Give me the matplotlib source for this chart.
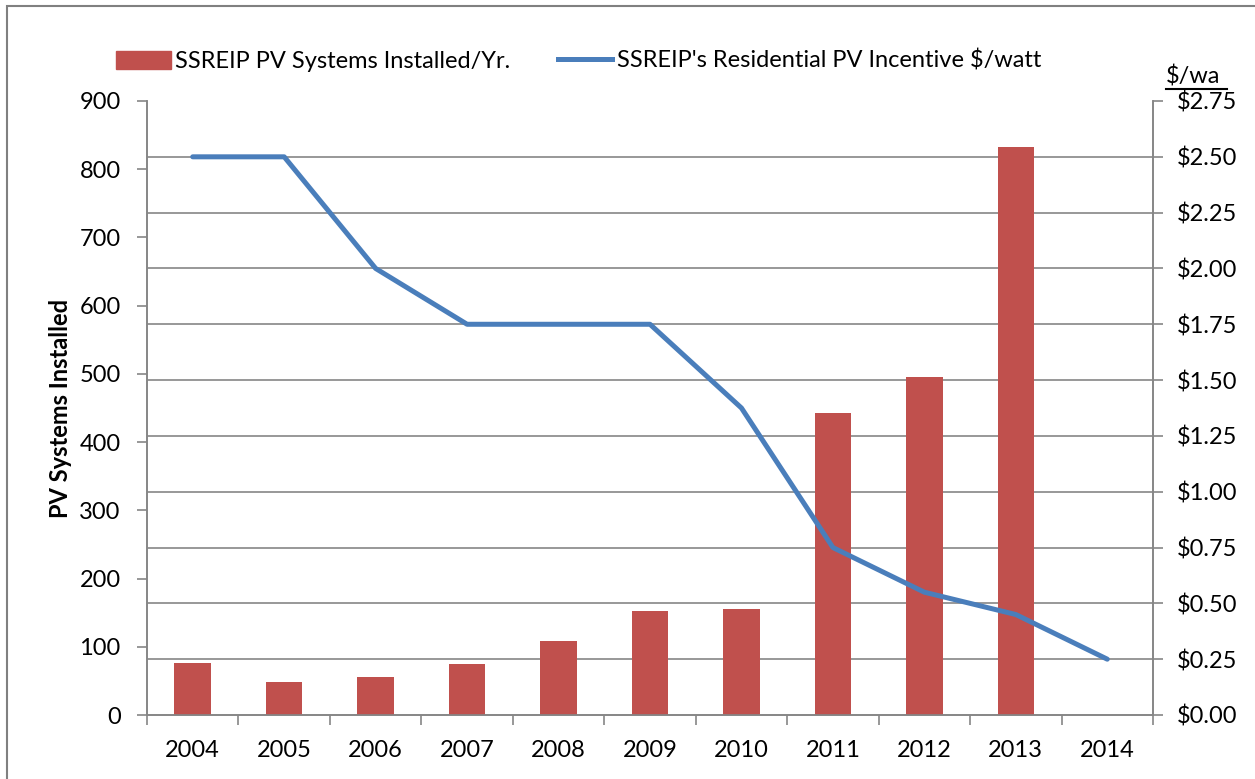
import matplotlib
matplotlib.use("Agg")
import matplotlib.pyplot as plt
from matplotlib.patches import Rectangle, Patch
from matplotlib.lines import Line2D

plt.rcParams['font.family'] = ['Lato', 'DejaVu Sans']

years = ['2004', '2005', '2006', '2007', '2008', '2009', '2010', '2011', '2012', '2013', '2014']
systems_installed = [76, 48, 56, 75, 108, 152, 155, 443, 495, 832, 0]
incentive = [2.50, 2.50, 2.00, 1.75, 1.75, 1.75, 1.375, 0.75, 0.55, 0.45, 0.25]
left_ticks = [0, 100, 200, 300, 400, 500, 600, 700, 800, 900]
right_ticks = [0, 0.25, 0.5, 0.75, 1.0, 1.25, 1.5, 1.75, 2.0, 2.25, 2.5, 2.75]

bar_color = '#C0504D'
line_color = '#4A7EBB'
axis_gray = '#868686'
left_max, right_max = 900, 2.75

fig = plt.figure(figsize=(12.55, 7.79), dpi=100)
ax = fig.add_axes([147 / 1255, 1 - 715 / 779, (1153 - 147) / 1255, (715 - 101) / 779])
ax2 = ax.twinx()

x = list(range(len(years)))
ax.bar(x, systems_installed, width=0.4, color=bar_color, zorder=3)
ax2.plot(x, incentive, color=line_color, lw=3.6, solid_capstyle='round', zorder=4)

ax.set_xlim(-0.5, len(years) - 0.5)
ax.set_ylim(0, left_max)
ax2.set_ylim(0, right_max)

# category labels centred, tick marks on the boundaries
ax.set_xticks([i - 0.5 for i in range(len(years) + 1)])
ax.set_xticklabels([])
ax.set_xticks(x, minor=True)
ax.set_xticklabels(years, minor=True)
ax.tick_params(axis='x', which='minor', length=0, pad=18, labelsize=17)
ax.tick_params(axis='x', which='major', length=7, width=1.2, color=axis_gray)

ax.set_yticks(left_ticks)
ax.tick_params(axis='y', which='major', length=7, width=1.2, color=axis_gray, pad=12, labelsize=17)
# gridlines sit at the right-hand axis ticks, but behind the bars
ax.set_yticks([v * left_max / right_max for v in right_ticks], minor=True)
ax.tick_params(axis='y', which='minor', length=0)
ax.grid(axis='y', which='minor', color=axis_gray, lw=1.2, zorder=0)
ax.grid(axis='y', which='major', visible=False)
ax.set_axisbelow(True)

ax2.set_yticks(right_ticks)
ax2.set_yticklabels(['$%.2f' % v for v in right_ticks])
ax2.tick_params(axis='y', length=7, width=1.2, color=axis_gray, pad=10, labelsize=17)

for a in (ax, ax2):
    for s in a.spines.values():
        s.set_color(axis_gray)
        s.set_linewidth(1.2)
    a.spines['top'].set_visible(False)

ax.set_ylabel('PV Systems Installed', fontsize=17, fontweight='bold', labelpad=5)

fig.text(1166 / 1255, 1 - 84 / 779, '$/wa', fontsize=17, ha='left', va='baseline')
fig.add_artist(Line2D([1166 / 1255, 1227 / 1255], [1 - 89 / 779, 1 - 89 / 779],
                      color='black', lw=1.5, transform=fig.transFigure))

handles = [Patch(color=bar_color), Line2D([], [], color=line_color, lw=3.6)]
labels = ['SSREIP PV Systems Installed/Yr.', "SSREIP's Residential PV Incentive $/watt"]
fig.legend(handles, labels, loc='center left', bbox_to_anchor=(107 / 1255, 1 - 61 / 779),
           ncol=2, frameon=False, fontsize=17, handlelength=2.3, handleheight=0.8,
           handletextpad=0.2, columnspacing=2.0, borderaxespad=0)

fig.add_artist(Rectangle((7 / 1255, -0.1), 1.2, 1.1 - 6 / 779, transform=fig.transFigure,
                         fill=False, edgecolor='#808080', lw=1.5))

fig.savefig('out.png', dpi=100)
